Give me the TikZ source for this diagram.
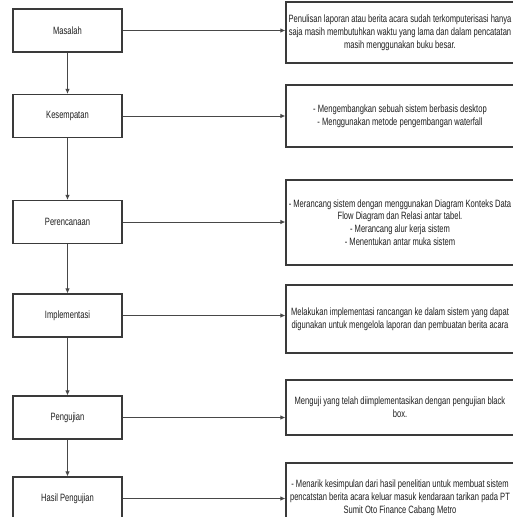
\documentclass[tikz,border=0pt]{standalone}
\usepackage{fontspec}
\setmainfont[FakeStretch=0.715]{Liberation Sans}
\usetikzlibrary{arrows.meta}
\definecolor{boxc}{HTML}{3A3A3A}
\definecolor{linec}{HTML}{474747}
\definecolor{txtc}{HTML}{1E1E1E}
\begin{document}
\begin{tikzpicture}[x=1pt,y=-1pt,
  lbox/.style={draw=boxc, line width=1.1pt, minimum width=109pt, minimum height=43pt, inner sep=0pt, text=txtc, font=\fontsize{10.6}{12.8}\selectfont},
  rbox/.style={draw=boxc, line width=1.3pt, minimum width=228pt, inner sep=0pt, align=center, text=txtc, font=\fontsize{10.6}{12.8}\selectfont},
  conn/.style={draw=linec, line width=0.9pt, -{Latex[length=5pt,width=4.5pt]}}]
\useasboundingbox (0,0) rectangle (513,517);
\clip (0,0) rectangle (513,517);
\fill[white] (0,0) rectangle (513,517);
% left column
\node[lbox] (m) at (67.5,30.5) {Masalah};
\node[lbox] (k) at (67.5,116) {Kesempatan};
\node[lbox] (p) at (67.5,222) {Perencanaan};
\node[lbox] (i) at (67.5,315.5) {Implementasi};
\node[lbox] (u) at (67.5,417.5) {Pengujian};
\node[lbox] (h) at (67.5,498.5) {Hasil Pengujian};
% right column
\node[rbox, minimum height=61pt] (r1) at (400,32.5) {Penulisan laporan atau berita acara sudah terkomputerisasi hanya\\saja masih membutuhkan waktu yang lama dan dalam pencatatan\\masih menggunakan buku besar.};
\node[rbox, minimum height=62pt] (r2) at (400,116) {- Mengembangkan sebuah sistem berbasis desktop\\- Menggunakan metode pengembangan waterfall};
\node[rbox, minimum height=85pt] (r3) at (400,222.5) {- Merancang sistem dengan menggunakan Diagram Konteks Data\\Flow Diagram dan Relasi antar tabel.\\- Merancang alur kerja sistem\\- Menentukan antar muka sistem};
\node[rbox, minimum height=68pt] (r4) at (400,319) {Melakukan implementasi rancangan ke dalam sistem yang dapat\\digunakan untuk mengelola laporan dan pembuatan berita acara};
\node[rbox, minimum height=55pt] (r5) at (400,407.5) {Menguji yang telah diimplementasikan dengan pengujian black\\box.};
\node[rbox, minimum height=70pt] (r6) at (400,498) {- Menarik kesimpulan dari hasil penelitian untuk membuat sistem\\pencatstan berita acara keluar masuk kendaraan tarikan pada PT\\Sumit Oto Finance Cabang Metro};
% vertical connectors
\draw[conn] (m.south) -- (k.north);
\draw[conn] (k.south) -- (p.north);
\draw[conn] (p.south) -- (i.north);
\draw[conn] (i.south) -- (u.north);
\draw[conn] (u.south) -- (h.north);
% horizontal connectors
\draw[conn] (m.east) -- (m.east -| r1.west);
\draw[conn] (k.east) -- (k.east -| r2.west);
\draw[conn] (p.east) -- (p.east -| r3.west);
\draw[conn] (i.east) -- (i.east -| r4.west);
\draw[conn] (u.east) -- (u.east -| r5.west);
\draw[conn] (h.east) -- (h.east -| r6.west);
\end{tikzpicture}
\end{document}
